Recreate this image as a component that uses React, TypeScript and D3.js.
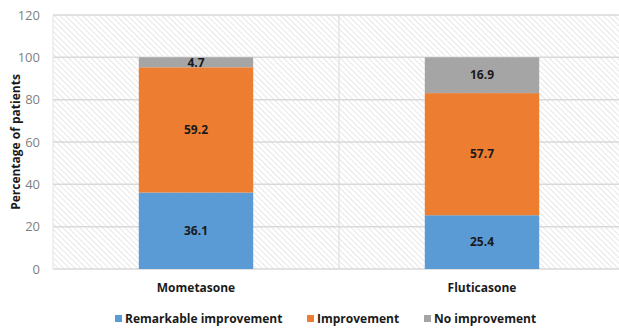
import React from "react";
import * as d3 from "d3";

const categories = ["Mometasone", "Fluticasone"];
const seriesNames = ["Remarkable improvement", "Improvement", "No improvement"];
const remarkable = [36.1, 25.4];
const improvement = [59.2, 57.7];
const noImprovement = [4.7, 16.9];
const yTicks = [0, 20, 40, 60, 80, 100, 120];
const colors = ["#5B9BD5", "#ED7D31", "#A5A5A5"];

const width = 619;
const height = 328;
const margin = { top: 15, right: -6, bottom: 59, left: 53 };

const App: React.FC = () => {
  const innerW = width - margin.left - margin.right;
  const innerH = height - margin.top - margin.bottom;

  const x = d3.scaleBand<string>().domain(categories).range([0, innerW]).paddingInner(0).paddingOuter(0);
  const y = d3.scaleLinear().domain([0, 120]).range([innerH, 0]);
  const barW = x.bandwidth() * 0.4;

  const rows = categories.map((c, i) => ({
    cat: c,
    r: remarkable[i],
    imp: improvement[i],
    no: noImprovement[i],
  }));
  const stack = d3.stack<any>().keys(["r", "imp", "no"])(rows);

  const font = "'Open Sans', 'Liberation Sans', sans-serif";

  return (
    <svg width={width} height={height} style={{ position: "absolute", left: 0, top: 0 }}>
      <defs>
        <pattern id="hatch" width="4" height="4" patternUnits="userSpaceOnUse" patternTransform="rotate(-45)">
          <line x1="0" y1="0" x2="0" y2="4" stroke="#d6d6d6" strokeWidth="1.2" />
        </pattern>
      </defs>
      <rect width={width} height={height} fill="#fff" />
      <g transform={`translate(${margin.left},${margin.top})`}>
        <rect x={0} y={0} width={innerW} height={innerH} fill="url(#hatch)" />
        {yTicks.map((t) => (
          <g key={t}>
            <line x1={0} x2={innerW} y1={y(t)} y2={y(t)} stroke="#d9d9d9" strokeWidth={1.5} />
            <text x={-13} y={y(t)} dy="0.35em" textAnchor="end" fontFamily={font} fontSize={13} fill="#7f7f7f">
              {t}
            </text>
          </g>
        ))}
        <line x1={0} x2={0} y1={0} y2={innerH} stroke="#e3e3e3" />
        <line x1={x.bandwidth()} x2={x.bandwidth()} y1={0} y2={innerH} stroke="#d9d9d9" />
        {stack.map((s, si) =>
          s.map((d, i) => {
            const bx = (x(categories[i]) as number) + (x.bandwidth() - barW) / 2;
            const val = d[1] - d[0];
            return (
              <g key={`${si}-${i}`}>
                <rect x={bx} y={y(d[1])} width={barW} height={y(d[0]) - y(d[1])} fill={colors[si]} />
                <text
                  x={bx + barW / 2}
                  y={(y(d[0]) + y(d[1])) / 2}
                  dy="0.35em"
                  textAnchor="middle"
                  fontFamily={font}
                  fontSize={12}
                  fontWeight="bold"
                  fill="#1a1a1a"
                >
                  {val.toFixed(1)}
                </text>
              </g>
            );
          })
        )}
        {categories.map((c) => (
          <text
            key={c}
            x={(x(c) as number) + x.bandwidth() / 2}
            y={innerH + 19}
            dy="0.35em"
            textAnchor="middle"
            fontFamily={font}
            fontSize={12}
            fontWeight="bold"
            fill="#1a1a1a"
          >
            {c}
          </text>
        ))}
      </g>
      <text
        transform={`translate(16,${margin.top + innerH / 2}) rotate(-90)`}
        textAnchor="middle"
        dy="0.35em"
        fontFamily={font}
        fontSize={12}
        fontWeight="bold"
        fill="#1a1a1a"
      >
        Percentage of patients
      </text>
      {seriesNames.map((n, i) => {
        const lx = [115, 307, 424][i];
        return (
          <g key={n} transform={`translate(${lx},319)`}>
            <rect x={0} y={-4} width={7} height={7} fill={colors[i]} />
            <text x={10} y={0} dy="0.35em" fontFamily={font} fontSize={12} fontWeight="bold" fill="#1a1a1a">
              {n}
            </text>
          </g>
        );
      })}
    </svg>
  );
};

export default App;
